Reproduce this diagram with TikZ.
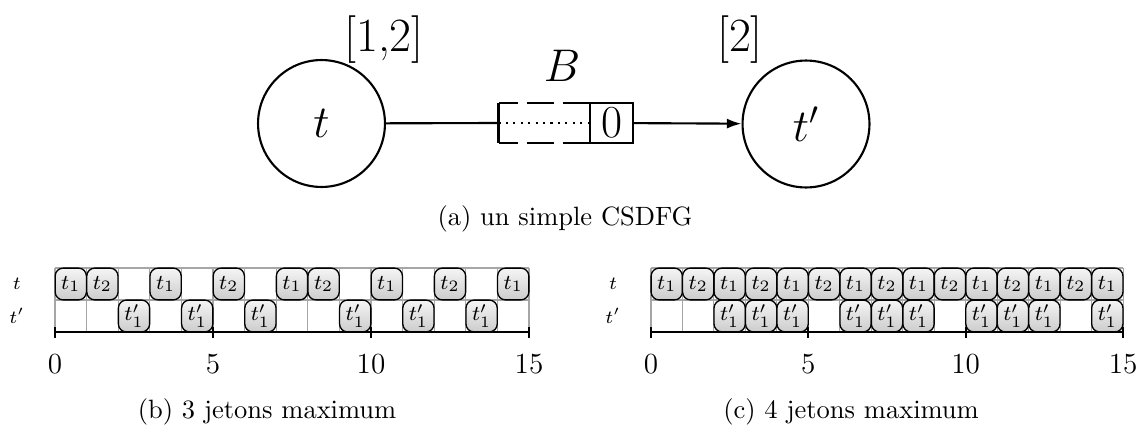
\documentclass[tikz,border=0pt]{standalone}
\usetikzlibrary{arrows.meta}
\begin{document}
\begin{tikzpicture}[x=0.3774pt,y=-0.3774pt,
  actor/.style={circle,draw,line width=0.8pt,minimum size=47.9pt,inner sep=0pt,font=\LARGE},
  lbl/.style={font=\fontsize{18}{20}\selectfont,inner sep=0pt},
  conn/.style={line width=0.8pt},
  bufside/.style={line width=0.8pt,dash pattern=on 10.2pt off 3.4pt},
  task/.style={draw,rounded corners=3pt,top color=gray!8,bottom color=gray!40,
    minimum width=11.8pt,minimum height=12.0pt,inner sep=0pt,outer sep=0pt,
    font=\footnotesize,line width=0.5pt},
  gridl/.style={gray!70,line width=0.4pt},
  axisl/.style={line width=0.7pt},
  rowlbl/.style={font=\scriptsize,inner sep=0pt},
  ticklbl/.style={font=\fontsize{11}{13}\selectfont,inner sep=0pt},
  capt/.style={font=\normalsize,inner sep=0pt}]
\useasboundingbox (0,0) rectangle (1140,426);

% (a) graph
\node[actor] (t) at (321.5,123.5) {$t$};
\node[actor] (tp) at (806,124) {$t'$};
\node[lbl] (lt) at (384,40) {[1,2]};
\node[lbl] (ltp) at (740,40) {[2]};
\node[font=\LARGE,inner sep=0pt] (B) at (562,66) {$B$};
\node[minimum width=34.7pt,minimum height=15.1pt,inner sep=0pt,outer sep=0pt] (buf) at (544.5,123) {};
\draw[line width=0.8pt] (buf.north west) -- (buf.south west);
\draw[bufside] (buf.north east) -- (buf.north west);
\draw[bufside] (buf.south east) -- (buf.south west);
\node[draw,line width=0.8pt,minimum width=16.2pt,minimum height=15.1pt,inner sep=0pt,font=\LARGE] (zero) at (611.5,123) {0};
\draw[dotted,line width=0.8pt] (buf.west) -- (zero.west);
\draw[conn] (t) -- (buf.west);
\draw[conn,-{Latex[length=5.5pt,width=3.8pt]}] (zero) -- (tp);
\node[capt] (capa) at (565,219) {(a) un simple CSDFG};

% (b) schedule, 3 tokens
\foreach \i in {0,...,15} \draw[gridl] ({55+31.6*\i},268) -- ({55+31.6*\i},332);
\draw[gridl] (55,268) -- (529,268);
\draw[gridl] (55,300) -- (529,300);
\foreach \i in {0,3,7,10,14} \node[task] (b-t-\i) at ({55+31.6*(\i+0.5)},284) {$t_1$};
\foreach \i in {1,5,8,12} \node[task] (b-t-\i) at ({55+31.6*(\i+0.5)},284) {$t_2$};
\foreach \i in {2,4,6,9,11,13} \node[task] (b-tp-\i) at ({55+31.6*(\i+0.5)},316) {$t'_1$};
\draw[axisl] (55,332) -- (529,332);
\foreach \k in {0,5,10,15} {
  \draw[axisl] ({55+31.6*\k},327) -- ({55+31.6*\k},338);
  \node[ticklbl] (b-tick-\k) at ({55+31.6*\k},364) {\k};
}
\node[rowlbl] (b-rt) at (17,284) {$t$};
\node[rowlbl] (b-rtp) at (17,316) {$t'$};
\node[capt] (capb) at (267,412) {(b) 3 jetons maximum};

% (c) schedule, 4 tokens
\foreach \i in {0,...,15} \draw[gridl] ({651+31.47*\i},268) -- ({651+31.47*\i},332);
\draw[gridl] (651,268) -- (1123,268);
\draw[gridl] (651,300) -- (1123,300);
\foreach \i in {0,2,...,14} \node[task] (c-t-\i) at ({651+31.47*(\i+0.5)},284) {$t_1$};
\foreach \i in {1,3,...,13} \node[task] (c-t-\i) at ({651+31.47*(\i+0.5)},284) {$t_2$};
\foreach \i in {2,3,4,6,7,8,10,11,12,14} \node[task] (c-tp-\i) at ({651+31.47*(\i+0.5)},316) {$t'_1$};
\draw[axisl] (651,332) -- (1123,332);
\foreach \k in {0,5,10,15} {
  \draw[axisl] ({651+31.47*\k},327) -- ({651+31.47*\k},338);
  \node[ticklbl] (c-tick-\k) at ({651+31.47*\k},364) {\k};
}
\node[rowlbl] (c-rt) at (613,284) {$t$};
\node[rowlbl] (c-rtp) at (613,316) {$t'$};
\node[capt] (capc) at (851,412) {(c) 4 jetons maximum};
\end{tikzpicture}
\end{document}
